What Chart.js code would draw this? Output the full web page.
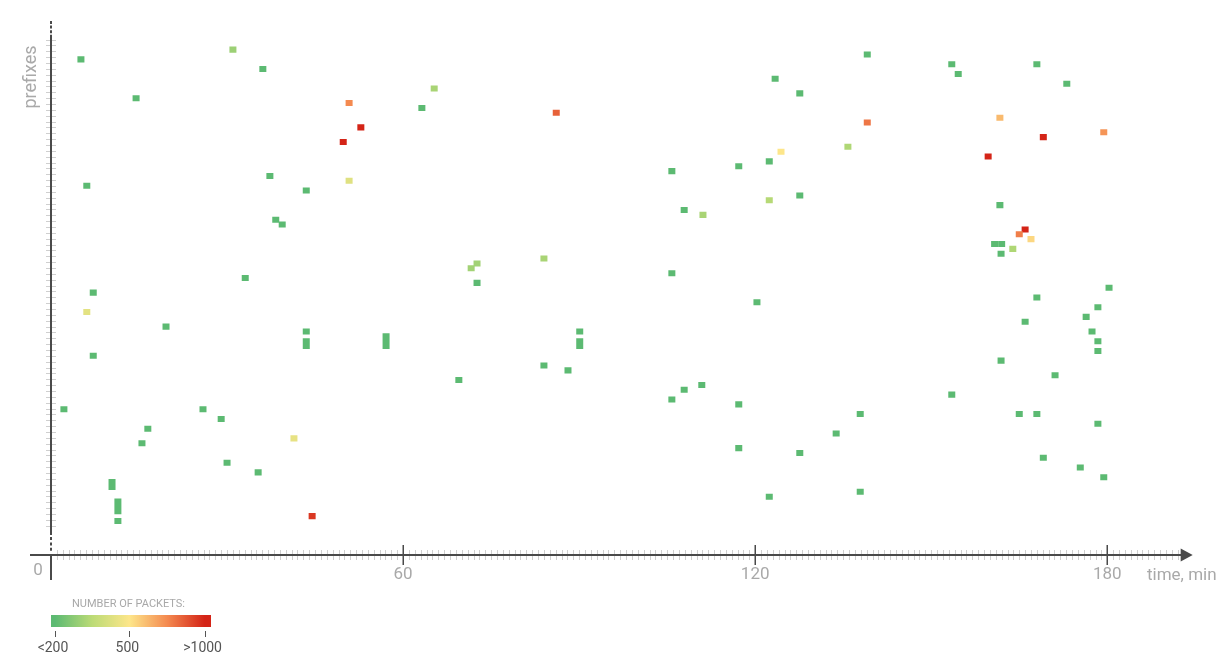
<!DOCTYPE html>
<html>
<head>
<meta charset="utf-8">
<script src="https://cdn.jsdelivr.net/npm/chart.js@4"></script>
<style>
  body { margin: 0; background: #fff; font-family: Roboto, "Noto Sans", sans-serif; }
  #wrap { position: relative; width: 1231px; height: 670px; overflow: hidden; }
  #chart { position: absolute; left: 0; top: 0; }
  #legendTitle { position: absolute; left: 72px; top: 597px; font-size: 11px; color: #a8a8a8; letter-spacing: 0; white-space: nowrap; }
  #legendBar { position: absolute; left: 51px; top: 615px; width: 160px; height: 12px; }
  .lg-tick { position: absolute; top: 631px; width: 1px; height: 6px; background: #555; }
  .lg-label { position: absolute; top: 639px; font-size: 14px; color: #555; transform: translateX(-50%); white-space: nowrap; }
</style>
</head>
<body>
<div id="wrap">
  <canvas id="chart" width="1231" height="670"></canvas>
  <div id="legendTitle">NUMBER OF PACKETS:</div>
  <div id="legendBar"></div>
  <div id="legendTicks"></div>
</div>
<script>
// time (min) of each cell, prefix row (0 = lowest), rows spanned, number of packets
const times = [
  5.1, 31.0, 36.1, 14.5, 50.8, 52.8, 49.8, 65.3, 63.2, 86.1,
  139.1, 153.5, 154.6, 168.0, 173.1, 123.4, 127.6, 139.1, 161.7, 169.1,
  179.4, 159.7, 124.4, 135.8, 122.4, 117.2, 105.8, 6.1, 37.3, 50.8,
  43.5, 127.6, 122.4, 107.9, 111.1, 161.7, 38.3, 39.4, 166.0, 165.0,
  167.0, 160.8, 162.0, 163.9, 161.9, 33.1, 71.6, 72.6, 72.6, 84.0,
  105.8, 7.2, 6.1, 19.6, 43.5, 43.5, 57.1, 90.1, 90.1, 7.2,
  120.3, 168.0, 180.3, 178.4, 176.4, 166.0, 177.4, 178.4, 178.4, 161.9,
  171.1, 69.5, 84.0, 88.1, 110.9, 107.9, 105.8, 153.5, 117.2, 2.2,
  25.9, 29.0, 16.5, 15.5, 41.4, 137.9, 133.8, 165.0, 168.0, 178.4,
  117.2, 127.6, 169.1, 175.4, 179.4, 30.0, 35.3, 10.4, 11.4, 11.4,
  44.5, 122.4, 137.9
];
const rows = [
  95, 97, 93, 87, 86, 81, 78, 89, 85, 84,
  96, 94, 92, 94, 90, 91, 88, 82, 83, 79,
  80, 75, 76, 77, 74, 73, 72, 69, 71, 70,
  68, 67, 66, 64, 63, 65, 62, 61, 60, 59,
  58, 57, 57, 56, 55, 50, 52, 53, 49, 54,
  51, 47, 43, 40, 39, 36, 36, 39, 36, 34,
  45, 46, 48, 44, 42, 41, 39, 37, 35, 33,
  30, 29, 32, 31, 28, 27, 25, 26, 24, 23,
  23, 21, 19, 16, 17, 22, 18, 22, 22, 20,
  15, 14, 13, 11, 9, 12, 10, 7, 2, 0,
  1, 5, 6
];
const spans = [
  1, 1, 1, 1, 1, 1, 1, 1, 1, 1,
  1, 1, 1, 1, 1, 1, 1, 1, 1, 1,
  1, 1, 1, 1, 1, 1, 1, 1, 1, 1,
  1, 1, 1, 1, 1, 1, 1, 1, 1, 1,
  1, 1, 1, 1, 1, 1, 1, 1, 1, 1,
  1, 1, 1, 1, 1, 2, 3, 1, 2, 1,
  1, 1, 1, 1, 1, 1, 1, 1, 1, 1,
  1, 1, 1, 1, 1, 1, 1, 1, 1, 1,
  1, 1, 1, 1, 1, 1, 1, 1, 1, 1,
  1, 1, 1, 1, 1, 1, 1, 2, 3, 1,
  1, 1, 1
];
const packets = [
  150, 300, 150, 150, 750, 1050, 1050, 320, 150, 850,
  150, 150, 150, 150, 150, 150, 150, 800, 620, 1050,
  720, 1050, 500, 330, 150, 150, 150, 150, 150, 430,
  150, 150, 340, 150, 320, 150, 150, 150, 1050, 780,
  540, 150, 150, 330, 150, 150, 310, 310, 150, 320,
  150, 150, 440, 150, 150, 150, 150, 150, 150, 150,
  150, 150, 150, 150, 150, 150, 150, 150, 150, 150,
  150, 150, 150, 150, 150, 150, 150, 150, 150, 150,
  150, 150, 150, 150, 450, 150, 150, 150, 150, 150,
  150, 150, 150, 150, 150, 150, 150, 150, 150, 150,
  950, 150, 150
];
const xTickLabels = [0, 60, 120, 180];
const legendValues = [200, 500, 1000];
const legendLabels = ['<200', '500', '>1000'];
// colour scale: packets -> colour
const colorStops = [[200, '#5cba72'], [350, '#bcdb76'], [500, '#fde68a'], [750, '#f48a50'], [1000, '#d42417']];
// where each legend value sits on the bar (fraction)
const legendPos = [0.025, 0.49, 0.96];

function hexToRgb(h) {
  return [parseInt(h.slice(1, 3), 16), parseInt(h.slice(3, 5), 16), parseInt(h.slice(5, 7), 16)];
}
function colorFor(v) {
  if (v <= colorStops[0][0]) return colorStops[0][1];
  for (let i = 1; i < colorStops.length; i++) {
    if (v <= colorStops[i][0]) {
      const [v0, c0] = colorStops[i - 1], [v1, c1] = colorStops[i];
      const f = (v - v0) / (v1 - v0);
      const a = hexToRgb(c0), b = hexToRgb(c1);
      return 'rgb(' + a.map((x, k) => Math.round(x + (b[k] - x) * f)).join(',') + ')';
    }
  }
  return colorStops[colorStops.length - 1][1];
}
function valueToFrac(v) {
  if (v <= legendValues[0]) return legendPos[0];
  for (let i = 1; i < legendValues.length; i++) {
    if (v <= legendValues[i]) {
      const f = (v - legendValues[i - 1]) / (legendValues[i] - legendValues[i - 1]);
      return legendPos[i - 1] + f * (legendPos[i] - legendPos[i - 1]);
    }
  }
  return legendPos[legendPos.length - 1];
}

// legend
const barEl = document.getElementById('legendBar');
barEl.style.background = 'linear-gradient(to right, ' +
  colorStops.map(s => `${s[1]} ${(valueToFrac(s[0]) * 100).toFixed(1)}%`).join(', ') + ')';
const tickWrap = document.getElementById('legendTicks');
legendValues.forEach((v, i) => {
  const px = 51 + valueToFrac(v) * 160;
  tickWrap.innerHTML += `<div class="lg-tick" style="left:${px.toFixed(1)}px"></div>` +
    `<div class="lg-label" style="left:${(px - 2).toFixed(1)}px">${legendLabels[i]}</div>`;
});

const cells = times.map((t, i) => ({ x: t, y: [rows[i], rows[i] + spans[i]] }));

const axesPlugin = {
  id: 'axes',
  afterDraw(chart) {
    const { ctx } = chart;
    const xs = chart.scales.x, ys = chart.scales.y, yt = chart.scales.yt;
    const x0 = Math.round(xs.getPixelForValue(0));
    const yB = Math.round(ys.getPixelForValue(ys.min));
    const xEnd = xs.getPixelForValue(xs.max);
    ctx.save();

    // y ticks
    ctx.strokeStyle = '#cfcfcf';
    ctx.lineWidth = 1;
    for (let v = 5; v <= 88; v++) {
      const py = Math.round(yt.getPixelForValue(v)) + 0.5;
      ctx.beginPath(); ctx.moveTo(x0 - 5, py); ctx.lineTo(x0 + 5, py); ctx.stroke();
    }
    // x minor ticks
    for (let t = 1; t <= xs.max; t++) {
      const px = Math.round(xs.getPixelForValue(t)) + 0.5;
      ctx.beginPath(); ctx.moveTo(px, yB - 5); ctx.lineTo(px, yB + 5); ctx.stroke();
    }

    ctx.strokeStyle = '#4a4a4a';
    ctx.lineWidth = 2;
    // y axis
    ctx.beginPath(); ctx.moveTo(x0, 35); ctx.lineTo(x0, 535); ctx.stroke();
    ctx.beginPath(); ctx.moveTo(x0, yB); ctx.lineTo(x0, yB + 25); ctx.stroke();
    ctx.setLineDash([3, 1.6]);
    ctx.beginPath(); ctx.moveTo(x0, 21); ctx.lineTo(x0, 35); ctx.stroke();
    ctx.setLineDash([3, 2.4]);
    ctx.beginPath(); ctx.moveTo(x0, 537); ctx.lineTo(x0, 552); ctx.stroke();
    ctx.setLineDash([]);
    // x axis
    ctx.beginPath(); ctx.moveTo(30, yB); ctx.lineTo(xEnd + 4, yB); ctx.stroke();
    ctx.fillStyle = '#4a4a4a';
    ctx.beginPath();
    ctx.moveTo(xEnd + 3, yB - 6.5); ctx.lineTo(xEnd + 15, yB); ctx.lineTo(xEnd + 3, yB + 6.5);
    ctx.closePath(); ctx.fill();

    // major x ticks + labels
    ctx.lineWidth = 1.5;
    ctx.font = '17px Roboto';
    ctx.fillStyle = '#a9a9a9';
    ctx.textBaseline = 'middle';
    xTickLabels.forEach(t => {
      const px = xs.getPixelForValue(t);
      if (t === 0) {
        ctx.textAlign = 'center';
        ctx.fillText(String(t), px - 13, yB + 16);
        return;
      }
      ctx.beginPath(); ctx.moveTo(Math.round(px) + 0.25, yB - 10); ctx.lineTo(Math.round(px) + 0.25, yB + 10); ctx.stroke();
      ctx.textAlign = 'center';
      ctx.fillText(String(t), px, yB + 20);
    });
    ctx.textAlign = 'left';
    ctx.fillText('time, min', 1147, yB + 21);

    // y title
    ctx.save();
    ctx.translate(31, 77);
    ctx.rotate(-Math.PI / 2);
    ctx.textAlign = 'center';
    ctx.font = '18px Roboto';
    ctx.fillText('prefixes', 0, 0);
    ctx.restore();

    ctx.restore();
  }
};

new Chart(document.getElementById('chart'), {
  type: 'bar',
  data: {
    datasets: [{
      data: cells,
      backgroundColor: packets.map(colorFor),
      borderWidth: 0,
      barThickness: 5.8,
      inflateAmount: 0.6,
      grouped: false
    }]
  },
  options: {
    responsive: false,
    animation: false,
    devicePixelRatio: 1,
    layout: { padding: { left: 51, right: 53.3, top: 20, bottom: 115 } },
    plugins: { legend: { display: false }, tooltip: { enabled: false } },
    scales: {
      x: { type: 'linear', display: false, offset: false, min: 0, max: 192 },
      y: { type: 'linear', display: false, min: -6.5, max: 103.6 },
      yt: { type: 'linear', display: false, min: 0, max: 91.33, position: 'left' }
    }
  },
  plugins: [axesPlugin]
});
</script>
</body>
</html>
